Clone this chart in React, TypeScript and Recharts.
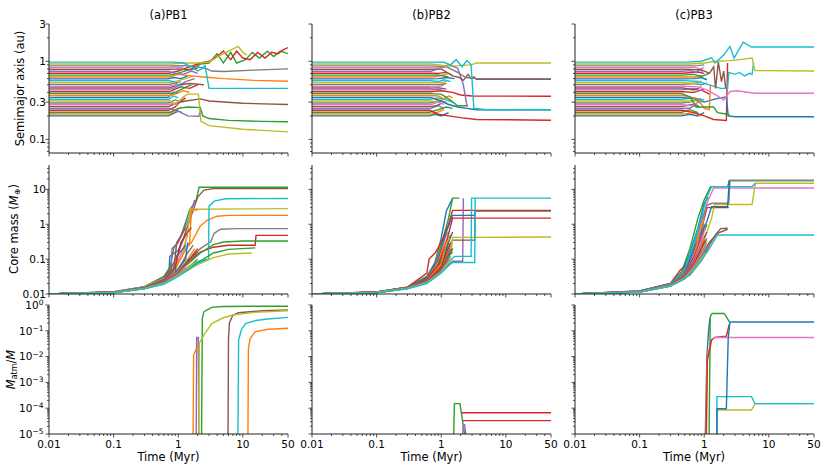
import React from 'react';
import { LineChart, Line, XAxis, YAxis } from 'recharts';

type Pt = [number, number];
type Track = Pt[];
// [time at which the orbit leaves its initial value, later points]
type Orbit = [number, Pt[]];

const PALETTE = ['#1f77b4', '#ff7f0e', '#2ca02c', '#d62728', '#9467bd', '#8c564b', '#e377c2', '#7f7f7f', '#bcbd22', '#17becf'];
const SPINE = '#222';
const FONT = 'DejaVu Sans';

const TITLES = ['(a)PB1', '(b)PB2', '(c)PB3'];

// initial semimajor axes (au), innermost first
const A0 = [0.200, 0.211, 0.223, 0.236, 0.249, 0.263, 0.278, 0.293, 0.310, 0.327, 0.345, 0.365, 0.385, 0.407, 0.430, 0.454, 0.479, 0.506, 0.535, 0.565, 0.596, 0.630, 0.665, 0.703, 0.742, 0.784, 0.828, 0.874, 0.923, 0.975];

const PB1_SMA: Orbit[] = [
  [0.7, [[0.85, 0.215], [1.0, 0.23], [1.15, 0.22]]],
  [0.72, [[0.9, 0.23], [1.1, 0.26]]],
  [0.75, [[1.0, 0.25], [1.4, 0.26], [2.2, 0.255], [2.4, 0.2], [3, 0.185], [6, 0.175], [20, 0.17], [50, 0.168]]],
  [0.7, [[0.9, 0.26], [1.05, 0.3], [1.3, 0.34]]],
  [0.72, [[1.0, 0.23], [1.4, 0.2], [2.1, 0.198], [2.2, 0.235]]],
  [0.72, [[0.9, 0.29], [1.3, 0.31], [2.2, 0.33], [3, 0.31], [10, 0.29], [50, 0.28]]],
  [0.7, [[0.85, 0.29], [1.0, 0.27]]],
  [0.7, [[0.9, 0.32], [1.1, 0.3]]],
  [0.75, [[0.9, 0.28], [1.2, 0.35], [1.4, 0.38], [2.05, 0.38], [2.25, 0.17], [3, 0.15], [10, 0.135], [50, 0.125]]],
  [0.72, [[0.85, 0.36], [1.0, 0.34]]],
  [0.7, [[0.85, 0.4], [1.0, 0.39]]],
  [0.72, [[0.9, 0.38], [1.2, 0.42], [1.5, 0.4]]],
  [0.7, [[0.9, 0.4], [1.2, 0.45], [1.6, 0.5]]],
  [0.72, [[0.9, 0.44], [1.1, 0.47], [1.5, 0.45], [2.0, 0.5]]],
  [0.7, [[0.9, 0.46], [1.3, 0.55], [1.8, 0.6]]],
  [0.72, [[1.0, 0.5], [1.5, 0.52], [2.5, 0.5]]],
  [0.7, [[0.9, 0.5], [1.2, 0.48]]],
  [0.72, [[0.9, 0.53], [1.1, 0.55]]],
  [0.7, [[0.9, 0.55], [1.3, 0.6], [1.7, 0.65]]],
  [0.72, [[0.85, 0.55], [1.0, 0.5], [1.2, 0.45]]],
  [0.7, [[0.85, 0.62], [1.1, 0.6], [1.4, 0.65]]],
  [0.72, [[1.0, 0.68], [1.6, 0.65], [2.5, 0.63], [5, 0.6], [15, 0.57], [50, 0.555]]],
  [0.75, [[1.1, 0.72], [1.6, 0.8], [2.2, 0.92], [3, 0.95], [4, 1.25], [5, 0.95], [6.5, 1.3], [8, 0.95], [11, 1.05], [14, 1.3], [18, 1.1], [24, 1.35], [30, 1.15], [38, 1.35], [50, 1.25]]],
  [0.72, [[1.0, 0.75], [1.5, 0.85], [2.2, 0.95], [3, 1.0], [4, 1.15], [5, 1.35], [6.5, 1.05], [8, 1.35], [10, 1.1], [13, 1.05], [17, 1.3], [22, 1.1], [28, 1.3], [35, 1.25], [42, 1.4], [50, 1.5]]],
  [0.72, [[0.9, 0.7], [1.2, 0.68], [1.6, 0.75], [2.0, 0.7]]],
  [0.7, [[1.0, 0.8], [1.5, 0.78], [2.0, 0.82]]],
  [0.72, [[0.9, 0.85], [1.2, 0.82]]],
  [0.75, [[1.2, 0.88], [2.0, 0.85], [2.8, 0.8], [3.3, 0.75], [5, 0.74], [15, 0.77], [50, 0.8]]],
  [0.8, [[1.2, 0.95], [2.0, 0.95], [3, 0.98], [4.5, 1.2], [6, 1.35], [8.5, 1.55], [10, 1.3], [11.5, 1.2]]],
  [0.8, [[1.2, 0.95], [1.6, 0.85], [2.0, 0.75], [2.3, 0.8], [2.6, 0.88], [3.0, 0.45], [50, 0.45]]],
];

const PB2_SMA: Orbit[] = [
  [0.66, [[0.8, 0.21], [1.0, 0.2], [1.3, 0.22]]],
  [0.68, [[0.85, 0.22], [1.1, 0.24]]],
  [0.66, [[0.9, 0.24], [1.2, 0.26], [1.5, 0.25]]],
  [0.66, [[0.9, 0.21], [1.3, 0.2], [2.0, 0.19], [3.5, 0.18], [50, 0.176]]],
  [0.68, [[0.9, 0.27], [1.1, 0.25]]],
  [0.66, [[0.85, 0.27], [1.0, 0.29]]],
  [0.68, [[0.9, 0.3], [1.1, 0.28]]],
  [0.66, [[0.9, 0.31], [1.2, 0.3]]],
  [0.68, [[0.85, 0.3], [1.1, 0.33]]],
  [0.66, [[0.9, 0.34], [1.2, 0.32], [1.5, 0.3]]],
  [0.68, [[1.0, 0.31], [1.3, 0.28], [1.8, 0.26], [2.5, 0.25], [3.5, 0.24], [50, 0.24]]],
  [0.66, [[0.9, 0.36], [1.1, 0.33], [1.3, 0.36], [1.5, 0.34]]],
  [0.68, [[1.0, 0.38], [1.3, 0.33], [1.8, 0.27], [2.6, 0.27]]],
  [0.68, [[1.0, 0.42], [1.5, 0.4], [2.0, 0.37], [3.0, 0.36], [50, 0.357]]],
  [0.66, [[0.9, 0.44], [1.1, 0.42]]],
  [0.68, [[0.9, 0.46], [1.2, 0.44]]],
  [0.66, [[0.9, 0.47], [1.1, 0.5]]],
  [0.68, [[0.9, 0.5], [1.2, 0.52]]],
  [0.66, [[0.9, 0.53], [1.2, 0.55]]],
  [0.68, [[0.9, 0.55], [1.1, 0.58], [1.4, 0.55]]],
  [0.66, [[0.9, 0.6], [1.2, 0.62], [1.6, 0.6]]],
  [0.68, [[0.9, 0.64], [1.3, 0.7], [1.5, 0.66]]],
  [0.66, [[0.9, 0.67], [1.3, 0.63]]],
  [0.68, [[0.9, 0.7], [1.2, 0.72]]],
  [0.7, [[1.3, 0.9], [1.8, 0.82], [2.2, 0.5], [2.5, 0.27]]],
  [0.7, [[1.0, 0.8], [1.5, 0.65], [1.9, 0.62], [2.2, 0.57], [2.6, 0.68], [2.9, 0.6], [3.2, 0.63], [3.5, 0.59], [50, 0.59]]],
  [0.68, [[0.9, 0.82], [1.2, 0.85]]],
  [0.7, [[1.2, 0.85], [1.8, 0.72], [2.4, 0.62], [3.5, 0.6], [50, 0.6]]],
  [0.7, [[0.95, 0.9], [1.2, 0.87], [1.8, 0.88], [2.9, 0.9], [3.5, 0.95], [50, 0.95]]],
  [0.7, [[1.1, 0.97], [1.4, 0.9], [1.7, 1.05], [2.1, 0.85], [2.5, 1.02], [2.9, 0.9], [3.2, 0.25], [5, 0.24], [50, 0.24]]],
];

const PB3_SMA: Orbit[] = [
  [0.45, [[0.6, 0.21], [0.8, 0.2], [1.0, 0.22]]],
  [0.47, [[0.7, 0.22], [0.9, 0.2]]],
  [0.45, [[0.6, 0.24], [0.8, 0.22]]],
  [0.45, [[0.7, 0.22], [1.0, 0.2], [1.4, 0.18], [2.2, 0.175], [2.3, 0.95]]],
  [0.47, [[0.6, 0.25], [0.75, 0.28], [0.85, 0.26]]],
  [0.45, [[0.65, 0.28], [0.8, 0.26]]],
  [0.47, [[0.65, 0.27], [0.8, 0.3]]],
  [0.45, [[0.6, 0.3], [0.75, 0.32], [0.85, 0.29]]],
  [0.47, [[0.7, 0.31], [0.9, 0.33]]],
  [0.45, [[0.7, 0.34], [1.0, 0.32]]],
  [0.45, [[0.7, 0.33], [1.0, 0.3], [1.5, 0.33], [2.2, 0.35], [2.35, 0.2], [3, 0.195], [50, 0.195]]],
  [0.47, [[0.8, 0.33], [1.0, 0.25], [1.2, 0.24], [1.25, 0.5]]],
  [0.45, [[0.6, 0.35], [0.75, 0.26], [1.4, 0.26], [1.6, 0.22], [2.3, 0.21], [2.5, 0.2]]],
  [0.47, [[0.7, 0.4], [0.9, 0.43], [1.2, 0.38]]],
  [0.45, [[0.7, 0.45], [0.85, 0.42], [1.0, 0.44]]],
  [0.47, [[0.7, 0.43], [0.9, 0.47]]],
  [0.5, [[0.8, 0.47], [1.1, 0.43], [1.6, 0.36], [2.0, 0.32], [2.5, 0.41], [3.2, 0.42], [6, 0.39], [50, 0.39]]],
  [0.47, [[0.7, 0.52], [0.9, 0.5], [1.1, 0.53]]],
  [0.45, [[0.7, 0.52], [0.9, 0.56]]],
  [0.5, [[0.8, 0.55], [1.2, 0.5], [1.8, 0.45], [2.3, 0.45], [2.4, 0.72], [3, 0.68], [3.5, 0.72], [4.2, 0.65], [5, 0.7], [5.5, 0.68], [5.8, 0.95]]],
  [0.47, [[0.7, 0.6], [0.9, 0.62], [1.1, 0.58]]],
  [0.47, [[0.7, 0.63], [0.9, 0.66]]],
  [0.45, [[0.7, 0.68], [0.9, 0.64], [1.2, 0.7]]],
  [0.47, [[0.8, 0.73], [1.0, 0.7]]],
  [0.47, [[0.6, 0.76], [0.75, 0.72], [0.85, 0.78], [0.95, 0.74]]],
  [0.5, [[0.9, 0.78], [1.2, 0.7], [1.4, 0.85], [1.5, 0.45], [1.65, 0.98], [1.85, 0.55], [2.0, 0.75], [2.15, 0.45]]],
  [0.5, [[0.7, 0.84], [0.85, 0.8], [1.0, 0.83]]],
  [0.5, [[0.8, 0.88], [1.0, 0.9]]],
  [0.6, [[1.0, 0.95], [1.5, 1.0], [2.5, 1.02], [3.5, 1.05], [5.5, 1.1], [6.1, 0.76], [50, 0.75]]],
  [0.55, [[0.9, 1.0], [1.3, 1.11], [1.47, 0.95], [2.0, 1.2], [2.5, 1.55], [2.9, 1.1], [4.0, 1.76], [5.4, 1.52], [50, 1.52]]],
];

const PB1_CORE: Track[] = [
  [[0.01, 0.01], [0.1, 0.0115], [0.3, 0.016], [0.6, 0.03], [0.72, 0.04], [0.74, 0.12], [1.0, 0.18], [1.3, 0.5]],
  [[0.01, 0.01], [0.1, 0.0114], [0.3, 0.0155], [0.6, 0.028], [0.9, 0.05], [1.3, 0.2], [1.6, 0.3], [2.2, 0.9], [2.8, 1.3], [4, 1.7], [6, 1.8], [50, 1.8]],
  [[0.01, 0.01], [0.1, 0.0116], [0.3, 0.0162], [0.6, 0.032], [0.75, 0.06], [0.85, 0.2], [1.1, 0.45], [1.5, 2.5], [1.9, 5], [2.1, 11.5], [50, 11.5]],
  [[0.01, 0.01], [0.1, 0.0113], [0.3, 0.015], [0.6, 0.025], [1.0, 0.045], [1.5, 0.09], [2.2, 0.16], [3.5, 0.22], [6, 0.25], [15.5, 0.25], [16, 0.48], [50, 0.48]],
  [[0.01, 0.01], [0.1, 0.0115], [0.3, 0.016], [0.6, 0.03], [0.78, 0.05], [0.8, 0.2], [1.0, 0.3], [1.4, 1.2], [1.7, 3.5], [1.8, 5]],
  [[0.01, 0.01], [0.1, 0.0114], [0.3, 0.0158], [0.6, 0.029], [0.8, 0.06], [1.0, 0.15], [1.3, 0.6], [1.7, 2.5], [2.0, 6], [2.5, 9.5], [3.5, 10.5], [50, 10.5]],
  [[0.01, 0.01], [0.1, 0.0113], [0.3, 0.0155], [0.6, 0.027], [0.9, 0.06], [1.2, 0.2], [1.4, 0.5]],
  [[0.01, 0.01], [0.1, 0.0112], [0.3, 0.015], [0.6, 0.025], [1.0, 0.05], [1.5, 0.1], [2.2, 0.2], [3.2, 0.32], [3.6, 0.55], [4.5, 0.72], [8, 0.75], [50, 0.75]],
  [[0.01, 0.01], [0.1, 0.0114], [0.3, 0.0157], [0.6, 0.028], [0.9, 0.05], [1.2, 0.15], [1.4, 0.6], [1.55, 2.7], [50, 2.8]],
  [[0.01, 0.01], [0.1, 0.011], [0.3, 0.0145], [0.6, 0.021], [1.0, 0.037], [2.0, 0.085], [2.95, 0.1], [3.0, 3.3], [3.6, 4.6], [5.4, 5.4], [50, 5.5]],
  [[0.01, 0.01], [0.1, 0.0112], [0.3, 0.015], [0.6, 0.026], [0.9, 0.045], [0.95, 0.12], [1.3, 0.25]],
  [[0.01, 0.01], [0.1, 0.0112], [0.3, 0.015], [0.6, 0.025], [1.0, 0.08], [1.5, 0.3], [1.6, 2.5], [2.0, 2.6]],
  [[0.01, 0.01], [0.1, 0.0111], [0.3, 0.0148], [0.6, 0.023], [1.0, 0.042], [1.5, 0.08], [2.2, 0.15], [3.5, 0.26], [5, 0.31], [10, 0.33], [50, 0.33]],
  [[0.01, 0.01], [0.1, 0.0112], [0.3, 0.015], [0.6, 0.026], [0.9, 0.06], [1.1, 0.3], [1.4, 0.6], [1.6, 0.8]],
  [[0.01, 0.01], [0.1, 0.0112], [0.3, 0.015], [0.6, 0.025], [0.9, 0.045], [1.2, 0.06]],
  [[0.01, 0.01], [0.1, 0.0113], [0.3, 0.0153], [0.6, 0.026], [0.85, 0.05], [0.95, 0.3], [1.2, 0.6], [1.3, 0.8]],
  [[0.01, 0.01], [0.1, 0.0111], [0.3, 0.0148], [0.6, 0.023], [0.9, 0.04], [1.1, 0.07], [1.3, 0.12]],
  [[0.01, 0.01], [0.1, 0.0111], [0.3, 0.0147], [0.6, 0.023], [1.0, 0.05], [1.4, 0.15], [1.7, 0.25]],
  [[0.01, 0.01], [0.1, 0.011], [0.3, 0.0143], [0.6, 0.02], [1.0, 0.033], [2.0, 0.07], [3.5, 0.11], [6, 0.14], [13.8, 0.15]],
  [[0.01, 0.01], [0.1, 0.011], [0.3, 0.0145], [0.6, 0.021], [1.0, 0.035], [1.6, 0.06], [2.2, 0.09]],
  [[0.01, 0.01], [0.1, 0.0111], [0.3, 0.0148], [0.6, 0.023], [0.9, 0.04], [1.3, 0.1], [1.4, 0.3]],
  [[0.01, 0.01], [0.1, 0.0111], [0.3, 0.0147], [0.6, 0.022], [1.0, 0.045], [1.3, 0.08], [1.8, 0.2]],
  [[0.01, 0.01], [0.1, 0.011], [0.3, 0.0145], [0.6, 0.021], [1.0, 0.037], [2.0, 0.08], [3.5, 0.15], [6, 0.19], [15.6, 0.21]],
  [[0.01, 0.01], [0.1, 0.0111], [0.3, 0.0146], [0.6, 0.022], [1.0, 0.04], [1.5, 0.1], [2.0, 0.2]],
  [[0.01, 0.01], [0.1, 0.011], [0.3, 0.0145], [0.6, 0.021], [1.0, 0.04], [1.3, 0.07]],
  [[0.01, 0.01], [0.1, 0.011], [0.3, 0.0145], [0.6, 0.022], [1.0, 0.04], [1.4, 0.09], [2.0, 0.16]],
  [[0.01, 0.01], [0.1, 0.011], [0.3, 0.0144], [0.6, 0.021], [1.0, 0.037], [1.3, 0.06]],
  [[0.01, 0.01], [0.1, 0.011], [0.3, 0.0144], [0.6, 0.021], [1.0, 0.036], [1.6, 0.07], [2.0, 0.1]],
  [[0.01, 0.01], [0.1, 0.011], [0.3, 0.0143], [0.6, 0.02], [1.0, 0.034], [1.5, 0.06], [1.8, 0.08]],
  [[0.01, 0.01], [0.1, 0.0109], [0.3, 0.014], [0.6, 0.019], [1.0, 0.032], [2.0, 0.075], [2.8, 0.1]],
];

const PB2_CORE: Track[] = [
  [[0.01, 0.01], [0.1, 0.0114], [0.3, 0.0158], [0.6, 0.032], [0.8, 0.08], [1.0, 0.4], [1.2, 2.4], [1.5, 5.5]],
  [[0.01, 0.01], [0.1, 0.0113], [0.3, 0.0155], [0.6, 0.03], [0.8, 0.07], [1.0, 0.3], [1.3, 0.6]],
  [[0.01, 0.01], [0.1, 0.0114], [0.3, 0.0157], [0.6, 0.031], [0.8, 0.07], [1.0, 0.25], [1.3, 1.5], [1.5, 5.6], [1.9, 5.6]],
  [[0.01, 0.01], [0.1, 0.0114], [0.3, 0.0157], [0.6, 0.04], [0.65, 0.1], [0.8, 0.15], [1.0, 0.3], [1.3, 1.0], [1.5, 2.5], [50, 2.5]],
  [[0.01, 0.01], [0.1, 0.0112], [0.3, 0.015], [0.6, 0.027], [1.0, 0.045], [1.3, 0.07], [1.5, 0.087], [2.15, 0.087], [2.2, 5.6]],
  [[0.01, 0.01], [0.1, 0.0113], [0.3, 0.0153], [0.6, 0.028], [0.9, 0.06], [1.2, 0.15], [1.5, 0.35], [3.3, 0.35], [3.35, 2.4], [50, 2.4]],
  [[0.01, 0.01], [0.1, 0.0113], [0.3, 0.0154], [0.6, 0.029], [0.85, 0.08], [1.0, 0.2], [1.2, 0.5]],
  [[0.01, 0.01], [0.1, 0.0112], [0.3, 0.0152], [0.6, 0.027], [0.9, 0.06], [1.1, 0.15], [1.3, 0.3]],
  [[0.01, 0.01], [0.1, 0.0112], [0.3, 0.015], [0.6, 0.026], [0.9, 0.05], [1.2, 0.12], [1.45, 0.2], [1.5, 0.42], [50, 0.43]],
  [[0.01, 0.01], [0.1, 0.011], [0.3, 0.0145], [0.6, 0.022], [1.0, 0.045], [1.3, 0.08], [1.6, 0.12], [2.9, 0.12], [2.95, 5.6], [50, 5.6]],
  [[0.01, 0.01], [0.1, 0.0113], [0.3, 0.0155], [0.6, 0.03], [0.9, 0.1], [1.2, 0.6], [1.5, 1.8], [3.3, 1.8], [3.35, 2.4]],
  [[0.01, 0.01], [0.1, 0.0112], [0.3, 0.0152], [0.6, 0.027], [0.9, 0.08], [1.1, 0.25], [1.3, 0.45]],
  [[0.01, 0.01], [0.1, 0.0112], [0.3, 0.015], [0.6, 0.026], [0.9, 0.06], [1.2, 0.2], [1.4, 0.5]],
  [[0.01, 0.01], [0.1, 0.0112], [0.3, 0.0151], [0.6, 0.027], [0.9, 0.07], [1.2, 0.3], [1.5, 1.5], [50, 1.5]],
  [[0.01, 0.01], [0.1, 0.0111], [0.3, 0.0148], [0.6, 0.024], [0.9, 0.05], [1.1, 0.1], [1.3, 0.15]],
  [[0.01, 0.01], [0.1, 0.0111], [0.3, 0.0149], [0.6, 0.025], [0.9, 0.05], [1.2, 0.12], [1.4, 0.25]],
  [[0.01, 0.01], [0.1, 0.0111], [0.3, 0.0148], [0.6, 0.024], [1.0, 0.07], [1.2, 0.15]],
  [[0.01, 0.01], [0.1, 0.0111], [0.3, 0.0148], [0.6, 0.024], [0.9, 0.045], [1.2, 0.1], [1.4, 0.2]],
  [[0.01, 0.01], [0.1, 0.011], [0.3, 0.0147], [0.6, 0.023], [1.0, 0.06], [1.3, 0.2], [1.5, 0.35]],
  [[0.01, 0.01], [0.1, 0.011], [0.3, 0.0146], [0.6, 0.023], [1.0, 0.05], [1.3, 0.12], [1.5, 0.2]],
  [[0.01, 0.01], [0.1, 0.011], [0.3, 0.0147], [0.6, 0.024], [1.0, 0.06], [1.3, 0.3], [1.5, 0.6]],
  [[0.01, 0.01], [0.1, 0.011], [0.3, 0.0146], [0.6, 0.023], [1.0, 0.07], [1.2, 0.3], [1.4, 0.4]],
  [[0.01, 0.01], [0.1, 0.011], [0.3, 0.0146], [0.6, 0.023], [1.0, 0.05], [1.3, 0.12], [1.5, 0.16]],
  [[0.01, 0.01], [0.1, 0.011], [0.3, 0.0146], [0.6, 0.023], [1.0, 0.06], [1.2, 0.15], [1.4, 0.3]],
  [[0.01, 0.01], [0.1, 0.011], [0.3, 0.0145], [0.6, 0.022], [1.0, 0.05], [1.3, 0.1]],
  [[0.01, 0.01], [0.1, 0.011], [0.3, 0.0145], [0.6, 0.022], [1.0, 0.05], [1.3, 0.13], [1.5, 0.2]],
  [[0.01, 0.01], [0.1, 0.011], [0.3, 0.0145], [0.6, 0.022], [1.0, 0.045], [1.3, 0.09]],
  [[0.01, 0.01], [0.1, 0.011], [0.3, 0.0145], [0.6, 0.022], [1.0, 0.045], [1.4, 0.12]],
  [[0.01, 0.01], [0.1, 0.011], [0.3, 0.0144], [0.6, 0.021], [1.0, 0.042], [1.4, 0.1]],
  [[0.01, 0.01], [0.1, 0.0109], [0.3, 0.0142], [0.6, 0.02], [1.0, 0.04], [1.3, 0.065], [1.5, 0.08], [3.3, 0.08], [3.35, 5.7]],
];

const PB3_CORE: Track[] = [
  [[0.01, 0.01], [0.1, 0.0122], [0.3, 0.02], [0.45, 0.04], [0.6, 0.15], [0.8, 0.8], [1.0, 4], [1.15, 6]],
  [[0.01, 0.01], [0.1, 0.012], [0.3, 0.019], [0.5, 0.045], [0.7, 0.2], [0.9, 0.8], [1.0, 1]],
  [[0.01, 0.01], [0.1, 0.0122], [0.3, 0.0198], [0.45, 0.045], [0.6, 0.2], [0.8, 1.5], [1.0, 5], [1.25, 12], [2.3, 12], [2.45, 18], [50, 18]],
  [[0.01, 0.01], [0.1, 0.0121], [0.3, 0.02], [0.43, 0.05], [0.6, 0.08], [0.8, 0.3], [0.95, 1.0], [1.1, 3], [2.4, 3]],
  [[0.01, 0.01], [0.1, 0.012], [0.3, 0.019], [0.5, 0.04], [0.7, 0.15], [0.9, 0.5], [1.05, 0.9]],
  [[0.01, 0.01], [0.1, 0.0115], [0.3, 0.017], [0.6, 0.035], [0.9, 0.09], [1.2, 0.25], [1.5, 0.5], [1.8, 0.75], [2.3, 0.77]],
  [[0.01, 0.01], [0.1, 0.0118], [0.3, 0.0185], [0.5, 0.04], [0.7, 0.15], [0.9, 0.8], [1.1, 4], [1.4, 11], [50, 11]],
  [[0.01, 0.01], [0.1, 0.0118], [0.3, 0.0185], [0.5, 0.045], [0.7, 0.25], [0.9, 1.2], [1.1, 3.5], [1.3, 4], [2.4, 4], [2.5, 18], [50, 18]],
  [[0.01, 0.01], [0.1, 0.0117], [0.3, 0.018], [0.5, 0.035], [0.8, 0.15], [1.1, 0.6], [1.3, 1.5], [1.45, 3.7], [5.5, 3.7], [6.2, 15], [50, 15]],
  [[0.01, 0.01], [0.1, 0.012], [0.3, 0.019], [0.5, 0.05], [0.7, 0.3], [0.9, 1.5], [1.1, 6], [1.3, 12], [5.5, 12], [6.2, 15]],
  [[0.01, 0.01], [0.1, 0.0118], [0.3, 0.0185], [0.5, 0.04], [0.7, 0.2], [0.9, 0.6], [1.1, 1.2], [1.3, 3.2], [2.3, 3.2], [2.45, 18]],
  [[0.01, 0.01], [0.1, 0.0117], [0.3, 0.018], [0.5, 0.038], [0.7, 0.12], [0.85, 0.6], [1.0, 1.5]],
  [[0.01, 0.01], [0.1, 0.0117], [0.3, 0.018], [0.5, 0.035], [0.7, 0.1], [0.9, 0.4], [1.1, 1.0]],
  [[0.01, 0.01], [0.1, 0.0117], [0.3, 0.018], [0.5, 0.036], [0.7, 0.12], [0.85, 0.3], [1.0, 0.7]],
  [[0.01, 0.01], [0.1, 0.0116], [0.3, 0.0178], [0.5, 0.034], [0.7, 0.09], [0.9, 0.3], [1.05, 0.5]],
  [[0.01, 0.01], [0.1, 0.0116], [0.3, 0.0177], [0.5, 0.033], [0.7, 0.08], [0.9, 0.25], [1.1, 0.6]],
  [[0.01, 0.01], [0.1, 0.0116], [0.3, 0.0178], [0.5, 0.035], [0.7, 0.1], [0.9, 0.35], [1.05, 0.8]],
  [[0.01, 0.01], [0.1, 0.0116], [0.3, 0.0176], [0.5, 0.033], [0.7, 0.08], [0.9, 0.2], [1.1, 0.4]],
  [[0.01, 0.01], [0.1, 0.0115], [0.3, 0.0175], [0.5, 0.032], [0.7, 0.075], [0.9, 0.18], [1.1, 0.35]],
  [[0.01, 0.01], [0.1, 0.0115], [0.3, 0.0175], [0.5, 0.032], [0.7, 0.07], [0.9, 0.15], [1.1, 0.3]],
  [[0.01, 0.01], [0.1, 0.0116], [0.3, 0.0177], [0.5, 0.034], [0.7, 0.09], [0.85, 0.2], [1.0, 0.35]],
  [[0.01, 0.01], [0.1, 0.0115], [0.3, 0.0175], [0.5, 0.032], [0.7, 0.08], [0.9, 0.25], [1.0, 0.4]],
  [[0.01, 0.01], [0.1, 0.0115], [0.3, 0.0174], [0.5, 0.031], [0.7, 0.07], [0.9, 0.15], [1.1, 0.25]],
  [[0.01, 0.01], [0.1, 0.0115], [0.3, 0.0175], [0.5, 0.032], [0.7, 0.075], [0.9, 0.2], [1.05, 0.35]],
  [[0.01, 0.01], [0.1, 0.0114], [0.3, 0.0173], [0.5, 0.03], [0.7, 0.065], [0.9, 0.13], [1.1, 0.22]],
  [[0.01, 0.01], [0.1, 0.0114], [0.3, 0.0172], [0.5, 0.03], [0.7, 0.06], [0.9, 0.12], [1.2, 0.3], [1.6, 0.55], [2.3, 0.72]],
  [[0.01, 0.01], [0.1, 0.0114], [0.3, 0.0172], [0.5, 0.03], [0.7, 0.065], [0.9, 0.14], [1.1, 0.25]],
  [[0.01, 0.01], [0.1, 0.0114], [0.3, 0.0171], [0.5, 0.029], [0.7, 0.06], [0.9, 0.12], [1.2, 0.25]],
  [[0.01, 0.01], [0.1, 0.0113], [0.3, 0.017], [0.5, 0.028], [0.7, 0.055], [0.9, 0.1], [1.2, 0.2]],
  [[0.01, 0.01], [0.1, 0.0113], [0.3, 0.0168], [0.5, 0.027], [0.7, 0.05], [0.9, 0.09], [1.2, 0.2], [1.6, 0.49], [50, 0.49]],
];

// atmosphere mass fraction; empty tracks stay below 1e-5 for the whole run
const PB1_ATM: Track[] = [
  [],
  [[12, 1e-5], [12.2, 0.021], [13, 0.05], [15.6, 0.093], [25, 0.115], [50, 0.125]],
  [[2.3, 1e-5], [2.36, 0.3], [2.5, 0.55], [3.3, 0.81], [5, 0.88], [15, 0.9], [50, 0.9]],
  [],
  [[1.9, 1e-5], [1.93, 0.055], [2.05, 0.055], [2.08, 1e-5]],
  [[5.9, 1e-5], [6.0, 0.05], [6.2, 0.2], [7, 0.4], [8.5, 0.5], [20, 0.6], [50, 0.65]],
  [], [],
  [[2.08, 1e-5], [2.12, 0.033], [2.5, 0.07], [3.3, 0.19], [5, 0.32], [7, 0.41], [15, 0.52], [50, 0.6]],
  [[8.4, 1e-5], [8.6, 0.044], [9.5, 0.11], [11, 0.19], [16, 0.25], [22, 0.28], [50, 0.33]],
  [],
  [[1.7, 1e-5], [1.73, 0.0115], [1.9, 0.02], [2.09, 0.028]],
];

const PB2_ATM: Track[] = [
  [],
  [],
  [[1.56, 1e-5], [1.6, 1.5e-4], [1.95, 1.5e-4], [2.3, 1e-5]],
  [[2.05, 6.7e-5], [50, 6.7e-5]],
  [[2.15, 1e-5], [2.2, 2.3e-5], [2.3, 2.3e-5], [2.4, 1e-5]],
  [], [], [], [], [], [], [], [],
  [[2.14, 3.3e-5], [50, 3.3e-5]],
];

const PB3_ATM: Track[] = [
  [[1.04, 1e-5], [1.1, 0.01], [1.16, 0.08], [1.22, 0.3]],
  [[1.06, 1e-5], [1.1, 0.004], [1.15, 0.02]],
  [[1.19, 1e-5], [1.24, 0.35], [1.32, 0.47], [2.05, 0.47], [2.45, 0.22]],
  [[1.08, 1e-5], [1.12, 0.0074], [1.3, 0.044], [1.45, 0.055], [2.2, 0.062], [2.45, 0.18]],
  [], [],
  [[1.35, 0.05], [1.45, 0.055], [50, 0.055]],
  [],
  [[1.57, 1e-5], [1.58, 8.5e-5], [5.4, 8.5e-5], [6.1, 1.5e-4], [50, 1.5e-4]],
  [[1.56, 1e-5], [1.57, 2.8e-4], [5.4, 2.8e-4], [6.1, 1.5e-4], [50, 1.5e-4]],
  [[1.57, 1e-5], [1.58, 9.5e-5], [2.2, 9.5e-5], [2.35, 0.05], [2.5, 0.22], [50, 0.22]],
];

// axis ticks
const X_MAJOR = [0.01, 0.1, 1, 10, 50];
const X_LABELS = ['0.01', '0.1', '1', '10', '50'];
const X_MINOR = [0.02, 0.03, 0.04, 0.05, 0.06, 0.07, 0.08, 0.09, 0.2, 0.3, 0.4, 0.5, 0.6, 0.7, 0.8, 0.9, 2, 3, 4, 5, 6, 7, 8, 9, 20, 30, 40];

const SMA_MAJOR = [0.1, 0.3, 1, 3];
const SMA_LABELS = ['0.1', '0.3', '1', '3'];
const SMA_MINOR = [0.07, 0.08, 0.09, 0.2, 0.4, 0.5, 0.6, 0.7, 0.8, 0.9, 2];

const CORE_MAJOR = [0.01, 0.1, 1, 10];
const CORE_LABELS = ['0.01', '0.1', '1', '10'];
const CORE_MINOR = [0.02, 0.03, 0.04, 0.05, 0.06, 0.07, 0.08, 0.09, 0.2, 0.3, 0.4, 0.5, 0.6, 0.7, 0.8, 0.9, 2, 3, 4, 5, 6, 7, 8, 9, 20, 30, 40];

const ATM_MAJOR = [1, 0.1, 0.01, 0.001, 0.0001, 0.00001];
const ATM_EXPONENTS = ['0', '\u22121', '\u22122', '\u22123', '\u22124', '\u22125'];
const ATM_MINOR = [2e-5, 3e-5, 4e-5, 5e-5, 6e-5, 7e-5, 8e-5, 9e-5, 2e-4, 3e-4, 4e-4, 5e-4, 6e-4, 7e-4, 8e-4, 9e-4, 2e-3, 3e-3, 4e-3, 5e-3, 6e-3, 7e-3, 8e-3, 9e-3, 0.02, 0.03, 0.04, 0.05, 0.06, 0.07, 0.08, 0.09, 0.2, 0.3, 0.4, 0.5, 0.6, 0.7, 0.8, 0.9];

const ROWS = [
  { domain: [0.067, 3], major: SMA_MAJOR, labels: SMA_LABELS, minor: SMA_MINOR, sup: false },
  { domain: [0.01, 50], major: CORE_MAJOR, labels: CORE_LABELS, minor: CORE_MINOR, sup: false },
  { domain: [1e-5, 1], major: ATM_MAJOR, labels: ATM_EXPONENTS, minor: ATM_MINOR, sup: true },
];

// layout of the 3x3 grid of plot areas
const COL_LEFT = [49, 312, 574.5];
const ROW_TOP = [24, 164.5, 305];
const PW = 239;
const PH = 129;
const YW = 50;
const MT = 12;
const MR = 14;
const XH = 25;

const findMajor = (list: number[], v: number) =>
  list.findIndex((m) => Math.abs(Math.log10(m) - Math.log10(v)) < 1e-6);

const XTick = (props: any) => {
  const { x, y, payload, show } = props;
  const k = findMajor(X_MAJOR, payload.value);
  return (
    <g>
      <line x1={x} x2={x} y1={y} y2={y + (k >= 0 ? 3.5 : 2)} stroke={SPINE} strokeWidth={0.8} />
      {show && k >= 0 ? (
        <text x={x} y={y + 13.8} textAnchor="middle" fontSize={10.5} fill="#000" fontFamily={FONT}>
          {X_LABELS[k]}
        </text>
      ) : null}
    </g>
  );
};

const YTick = (props: any) => {
  const { x, y, payload, show, row } = props;
  const cfg = ROWS[row];
  const k = findMajor(cfg.major, payload.value);
  return (
    <g>
      <line x1={x} x2={x - (k >= 0 ? 3.5 : 2)} y1={y} y2={y} stroke={SPINE} strokeWidth={0.8} />
      {show && k >= 0 ? (
        cfg.sup ? (
          <text x={x - 5.5} y={y + 3.8} textAnchor="end" fontSize={10.5} fill="#000" fontFamily={FONT}>
            10<tspan dy={-3.8} fontSize={7.5}>{cfg.labels[k]}</tspan>
          </text>
        ) : (
          <text x={x - 3} y={y + 3.6} textAnchor="end" fontSize={10.5} fill="#000" fontFamily={FONT}>
            {cfg.labels[k]}
          </text>
        )
      ) : null}
    </g>
  );
};

const smaTracks = (orbits: Orbit[]): Track[] =>
  orbits.map(([tb, pts], i) => [[0.01, A0[i]], [tb, A0[i]], ...pts] as Track);

const PANELS: Track[][][] = [
  [smaTracks(PB1_SMA), smaTracks(PB2_SMA), smaTracks(PB3_SMA)],
  [PB1_CORE, PB2_CORE, PB3_CORE],
  [PB1_ATM, PB2_ATM, PB3_ATM],
];

function Panel({ row, col }: { row: number; col: number }) {
  const cfg = ROWS[row];
  const tracks = PANELS[row][col];
  const yTicks = [...cfg.major, ...cfg.minor];
  return (
    <div style={{ position: 'absolute', left: COL_LEFT[col] - YW, top: ROW_TOP[row] - MT }}>
      <LineChart width={YW + PW + MR} height={MT + PH + XH} margin={{ top: MT, right: MR, left: 0, bottom: 0 }}>
        <XAxis
          dataKey="t"
          type="number"
          scale="log"
          domain={[0.01, 50]}
          allowDataOverflow
          ticks={[...X_MAJOR, ...X_MINOR]}
          interval={0}
          height={XH}
          tickSize={0}
          tickMargin={0}
          tickLine={false}
          axisLine={{ stroke: SPINE, strokeWidth: 1 }}
          tick={(p: any) => <XTick {...p} show={row === 2} />}
        />
        <XAxis
          xAxisId="top"
          orientation="top"
          type="number"
          scale="log"
          domain={[0.01, 50]}
          allowDataOverflow
          height={0}
          tick={false}
          tickLine={false}
          axisLine={{ stroke: SPINE, strokeWidth: 1 }}
        />
        <YAxis
          type="number"
          scale="log"
          domain={cfg.domain}
          allowDataOverflow
          ticks={yTicks}
          interval={0}
          width={YW}
          tickSize={0}
          tickMargin={0}
          tickLine={false}
          axisLine={{ stroke: SPINE, strokeWidth: 1 }}
          tick={(p: any) => <YTick {...p} show={col === 0} row={row} />}
        />
        <YAxis
          yAxisId="right"
          orientation="right"
          type="number"
          scale="log"
          domain={cfg.domain}
          allowDataOverflow
          width={0}
          tick={false}
          tickLine={false}
          axisLine={{ stroke: SPINE, strokeWidth: 1 }}
        />
        {tracks.map((tr, i) =>
          tr.length ? (
            <Line
              key={i}
              data={tr.map(([t, v]) => ({ t, v }))}
              dataKey="v"
              type="linear"
              stroke={PALETTE[i % 10]}
              strokeWidth={1.4}
              dot={false}
              activeDot={false}
              isAnimationActive={false}
            />
          ) : null
        )}
      </LineChart>
    </div>
  );
}

export default function App() {
  const rows = [0, 1, 2];
  const cols = [0, 1, 2];
  return (
    <div style={{ position: 'absolute', left: 0, top: 0, width: 830, height: 467, background: '#fff', fontFamily: FONT }}>
      {rows.map((r) => cols.map((c) => <Panel key={`${r}-${c}`} row={r} col={c} />))}
      <svg width={830} height={467} style={{ position: 'absolute', left: 0, top: 0, pointerEvents: 'none' }} fontFamily={FONT}>
        {TITLES.map((t, c) => (
          <text key={t} x={COL_LEFT[c] + PW / 2} y={19} textAnchor="middle" fontSize={11.5} fill="#000">
            {t}
          </text>
        ))}
        <text transform={`translate(23.5,${ROW_TOP[0] + PH / 2}) rotate(-90)`} textAnchor="middle" fontSize={11.5} fill="#000">
          Semimajor axis (au)
        </text>
        <text transform={`translate(17.5,${ROW_TOP[1] + PH / 2}) rotate(-90)`} textAnchor="middle" fontSize={11.5} fill="#000">
          Core mass (<tspan fontStyle="italic">M</tspan>
          <tspan dy={2.5} fontSize={8}>⊕</tspan>
          <tspan dy={-2.5}>)</tspan>
        </text>
        <text transform={`translate(14.5,${ROW_TOP[2] + PH / 2}) rotate(-90)`} textAnchor="middle" fontSize={11.5} fill="#000">
          <tspan fontStyle="italic">M</tspan>
          <tspan dy={2.5} fontSize={8}>atm</tspan>
          <tspan dy={-2.5}>/</tspan>
          <tspan fontStyle="italic">M</tspan>
        </text>
        {TITLES.map((t, c) => (
          <text key={'x' + t} x={COL_LEFT[c] + PW / 2} y={461} textAnchor="middle" fontSize={11.5} fill="#000">
            Time (Myr)
          </text>
        ))}
      </svg>
    </div>
  );
}
